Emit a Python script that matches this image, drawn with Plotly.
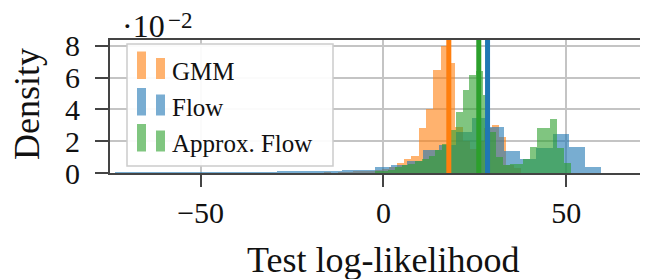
import numpy as np
import plotly.graph_objects as go

# ---------------- data (density in units of 1e-2) ----------------
gmm_bin_start = -16.34
gmm_bin_width = 2.0
gmm_density = [0.05, 0.0, 0.05, 0.05, 0.1, 0.1, 0.15, 0.2, 0.25, 0.4, 0.6,
               0.9, 1.1, 2.8, 4.0, 6.46, 7.97, 6.9, 2.9, 2.0, 1.5, 2.0, 2.8,
               3.0, 2.26, 0.5, 0.3]

flow_bin_start = -73.3
flow_bin_width = 4.43
flow_density = [0.03, 0.02, 0.03, 0.02, 0.03, 0.02, 0.04, 0.05, 0.04, 0.06,
                0.08, 0.1, 0.12, 0.15, 0.2, 0.2, 0.36, 0.48, 0.75, 1.43, 1.78,
                2.6, 3.46, 2.9, 1.36, 0.85, 1.6, 2.43, 1.62, 0.36]

approx_bin_start = -2.4
approx_bin_width = 1.85
approx_density = [0.1, 0.15, 0.2, 0.38, 0.48, 0.55, 0.75, 0.85, 1.1, 1.43, 1.8,
                  2.7, 3.84, 5.2, 6.14, 6.4, 4.9, 2.56, 1.0, 0.5, 0.55, 0.55,
                  0.9, 1.64, 2.8, 2.8, 3.37, 1.6, 0.6]

series_names = ["GMM", "Flow", "Approx. Flow"]
series_colors = ["#ff7f0e", "#1f77b4", "#2ca02c"]
series_light = ["#ffb26e", "#79add2", "#80c680"]
mean_loglik = [17.9, 28.5, 26.1]

x_ticks = [-50, 0, 50]
y_ticks = [0, 2, 4, 6, 8]
x_range = [-74.8, 72.4]
y_range = [0, 8.36]

# ---------------- layout geometry ----------------
# the page body has an 8px margin, so the figure starts at (8, 8) on the page
OFF = 8
W, H = 640, 271
PLOT_L, PLOT_R, PLOT_T, PLOT_B = 110, 648, 40, 173   # page pixels
ML, MR, MT, MB = PLOT_L - OFF, OFF + W - PLOT_R, PLOT_T - OFF, OFF + H - PLOT_B
PW, PH = PLOT_R - PLOT_L, PLOT_B - PLOT_T
FONT = "Liberation Serif"


def px_x(p):
    return (p - PLOT_L) / PW


def px_y(p):
    return (PLOT_B - p) / PH


fig = go.Figure()

hists = [
    (gmm_bin_start, gmm_bin_width, gmm_density),
    (flow_bin_start, flow_bin_width, flow_density),
    (approx_bin_start, approx_bin_width, approx_density),
]
for (start, width, dens), name, color in zip(hists, series_names, series_colors):
    dens = np.array(dens)
    centers = start + width * (np.arange(len(dens)) + 0.5)
    fig.add_trace(go.Bar(
        x=centers, y=dens, width=width, name=name,
        marker=dict(color=color, line=dict(width=0)), opacity=0.6,
        showlegend=False,
    ))

for m, color, name in zip(mean_loglik, series_colors, series_names):
    fig.add_trace(go.Scatter(
        x=[m, m], y=[y_range[0], y_range[1]], mode="lines",
        line=dict(color=color, width=5), showlegend=False, name=name,
    ))

# ---------------- manual legend (histogram-style icons) ----------------
shapes = [dict(type="rect", xref="paper", yref="paper",
               x0=px_x(127), x1=px_x(333), y0=px_y(166), y1=px_y(44),
               line=dict(color="#cccccc", width=1.5),
               fillcolor="rgba(255,255,255,0.92)", layer="above")]
annotations = []
row_centers = [71, 107.5, 143.5]
for yc, name, light in zip(row_centers, series_names, series_light):
    shapes.append(dict(type="rect", xref="paper", yref="paper",
                       x0=px_x(137), x1=px_x(146), y0=px_y(yc + 8), y1=px_y(yc - 19.5),
                       line=dict(width=0), fillcolor=light, layer="above"))
    shapes.append(dict(type="rect", xref="paper", yref="paper",
                       x0=px_x(156), x1=px_x(165), y0=px_y(yc + 8), y1=px_y(yc - 13),
                       line=dict(width=0), fillcolor=light, layer="above"))
    annotations.append(dict(text=name, xref="paper", yref="paper",
                            x=px_x(170), y=px_y(yc), xanchor="left", yanchor="middle",
                            showarrow=False, font=dict(family=FONT, size=25, color="#111")))

# axis titles and offset
annotations.append(dict(text="Test log-likelihood", xref="x", yref="paper",
                        x=0, y=px_y(260), xanchor="center", yanchor="middle",
                        showarrow=False, font=dict(family=FONT, size=36, color="#111")))
annotations.append(dict(text="Density", xref="paper", yref="paper",
                        x=px_x(27), y=px_y(104), xanchor="center", yanchor="middle",
                        textangle=-90, showarrow=False,
                        font=dict(family=FONT, size=36, color="#111")))
annotations.append(dict(text="·10", xref="paper", yref="paper",
                        x=px_x(120), y=px_y(26), xanchor="left", yanchor="middle",
                        showarrow=False, font=dict(family=FONT, size=32, color="#111")))
annotations.append(dict(text="−2", xref="paper", yref="paper",
                        x=px_x(166), y=px_y(20), xanchor="left", yanchor="middle",
                        showarrow=False, font=dict(family=FONT, size=23, color="#111")))

fig.update_layout(
    width=W, height=H, autosize=False,
    margin=dict(l=ML, r=MR, t=MT, b=MB, pad=0),
    paper_bgcolor="white", plot_bgcolor="white",
    barmode="overlay", bargap=0,
    shapes=shapes, annotations=annotations,
    font=dict(family=FONT, color="#111"),
)
fig.update_xaxes(
    range=x_range, tickvals=x_ticks, ticktext=[f"{v}".replace("-", "−") for v in x_ticks],
    showgrid=True, gridcolor="#c4c4c4", gridwidth=1.5, zeroline=False,
    showline=True, linecolor="#444", linewidth=2, mirror=True,
    ticks="outside", ticklen=12, tickwidth=1.5, tickcolor="#444",
    tickfont=dict(family=FONT, size=30, color="#111"), ticklabelstandoff=0,
)
fig.update_yaxes(
    range=y_range, tickvals=y_ticks, ticktext=[str(v) for v in y_ticks],
    showgrid=True, gridcolor="#c4c4c4", gridwidth=1.5, zeroline=False,
    showline=True, linecolor="#444", linewidth=2, mirror=False,
    ticks="outside", ticklen=13, tickwidth=1.5, tickcolor="#444",
    tickfont=dict(family=FONT, size=30, color="#111"), ticklabelstandoff=9,
)

fig.write_html("out.html")
